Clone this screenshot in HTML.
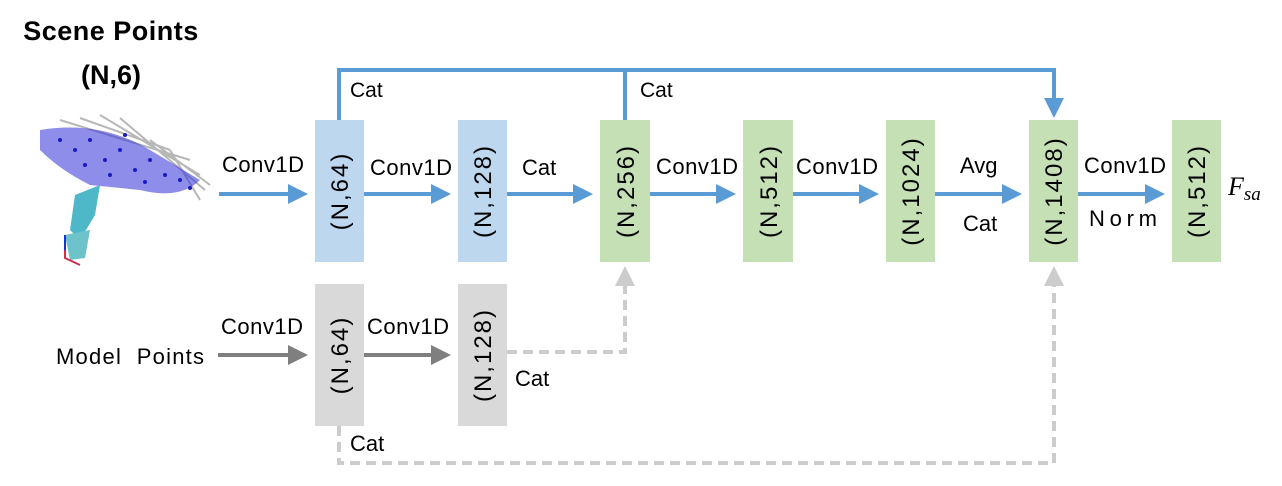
<!DOCTYPE html>
<html><head><meta charset="utf-8"><style>
body{margin:0;background:#fff;}
svg{display:block;font-family:"Liberation Sans",sans-serif;}
</style></head><body>
<svg width="1282" height="486" viewBox="0 0 1282 486" xmlns="http://www.w3.org/2000/svg">
<defs>
<marker id="ab" markerWidth="5" markerHeight="5" refX="4" refY="2.5" orient="auto" markerUnits="strokeWidth"><path d="M0,0 L5,2.5 L0,5z" fill="#5b9bd5"/></marker>
<marker id="ag" markerWidth="5" markerHeight="5" refX="4" refY="2.5" orient="auto" markerUnits="strokeWidth"><path d="M0,0 L5,2.5 L0,5z" fill="#7f7f7f"/></marker>
<marker id="ad" markerWidth="5" markerHeight="5" refX="4" refY="2.5" orient="auto" markerUnits="strokeWidth"><path d="M0,0 L5,2.5 L0,5z" fill="#cccccc"/></marker>
</defs>
<text x="111" y="40" font-size="27" font-weight="bold" text-anchor="middle" letter-spacing="0.5">Scene Points</text>
<text x="111" y="84" font-size="27" font-weight="bold" text-anchor="middle">(N,6)</text>
<!-- point cloud approximation -->
<g>
<path d="M60,120 L190,160 M80,118 L170,150 M100,115 L200,175 M120,118 L205,190 M150,140 L210,185 M170,150 L200,200" stroke="#999" stroke-width="2" opacity="0.7"/>
<path d="M40,130 Q100,120 150,150 L200,180 Q180,200 140,190 L90,185 Q60,170 40,150z" fill="#3232d8" opacity="0.55"/>
<g fill="#1a1ac0">
<circle cx="60" cy="140" r="2"/><circle cx="75" cy="150" r="2"/><circle cx="90" cy="140" r="2"/><circle cx="105" cy="160" r="2"/><circle cx="120" cy="150" r="2"/><circle cx="135" cy="170" r="2"/><circle cx="150" cy="160" r="2"/><circle cx="165" cy="175" r="2"/><circle cx="180" cy="180" r="2"/><circle cx="190" cy="188" r="2"/><circle cx="110" cy="175" r="2"/><circle cx="145" cy="182" r="2"/><circle cx="85" cy="165" r="2"/><circle cx="125" cy="135" r="2"/>
</g>
<path d="M75,195 L100,185 L95,215 L80,240 L70,230z" fill="#4fb8c8"/>
<path d="M65,235 L90,230 L85,258 L70,260z" fill="#6cc3c9"/>
<path d="M65,235 L65,258 L80,265" stroke="#d03050" stroke-width="2" fill="none"/>
<path d="M65,235 L65,250" stroke="#2030d0" stroke-width="2"/>
</g>
<!-- top skip line -->
<path d="M339,120 V70 H1054 V114" stroke="#5b9bd5" stroke-width="4" fill="none" marker-end="url(#ab)"/>
<path d="M625,70 V120" stroke="#5b9bd5" stroke-width="4" fill="none"/>
<text x="350" y="97" font-size="21">Cat</text>
<text x="640" y="97" font-size="21">Cat</text>
<!-- dashed lines -->
<path d="M507,352 H625 V270" stroke="#cccccc" stroke-width="4" stroke-dasharray="10,6" fill="none" marker-end="url(#ad)"/>
<path d="M339,426 V463 H1054 V270" stroke="#cccccc" stroke-width="4" stroke-dasharray="10,6" fill="none" marker-end="url(#ad)"/>
<!-- boxes -->
<rect x="315" y="120" width="49" height="142" fill="#bdd7ee"/>
<rect x="458" y="120" width="49" height="142" fill="#bdd7ee"/>
<rect x="600" y="120" width="50" height="142" fill="#c5e0b4"/>
<rect x="743" y="120" width="50" height="142" fill="#c5e0b4"/>
<rect x="886" y="120" width="49" height="142" fill="#c5e0b4"/>
<rect x="1029" y="120" width="49" height="142" fill="#c5e0b4"/>
<rect x="1172" y="120" width="49" height="142" fill="#c5e0b4"/>
<rect x="315" y="284" width="49" height="142" fill="#d9d9d9"/>
<rect x="458" y="284" width="49" height="142" fill="#d9d9d9"/>
<g font-size="24" text-anchor="middle" letter-spacing="2">
<text transform="translate(348,191) rotate(-90)">(N,64)</text>
<text transform="translate(491,191) rotate(-90)">(N,128)</text>
<text transform="translate(634,191) rotate(-90)">(N,256)</text>
<text transform="translate(777,191) rotate(-90)">(N,512)</text>
<text transform="translate(919,191) rotate(-90)">(N,1024)</text>
<text transform="translate(1062,191) rotate(-90)">(N,1408)</text>
<text transform="translate(1205,191) rotate(-90)">(N,512)</text>
<text transform="translate(348,355) rotate(-90)">(N,64)</text>
<text transform="translate(491,355) rotate(-90)">(N,128)</text>
</g>
<!-- main arrows -->
<g stroke="#5b9bd5" stroke-width="4" fill="none" marker-end="url(#ab)">
<path d="M219,194 H304"/>
<path d="M364,194 H447"/>
<path d="M507,194 H589"/>
<path d="M650,194 H732"/>
<path d="M793,194 H875"/>
<path d="M935,194 H1018"/>
<path d="M1078,194 H1161"/>
</g>
<g stroke="#7f7f7f" stroke-width="4" fill="none" marker-end="url(#ag)">
<path d="M218,355 H304"/>
<path d="M364,355 H447"/>
</g>
<g font-size="22">
<text x="222" y="172" textLength="82">Conv1D</text>
<text x="370" y="175" textLength="82">Conv1D</text>
<text x="522" y="175">Cat</text>
<text x="656" y="174" textLength="82">Conv1D</text>
<text x="796" y="174" textLength="82">Conv1D</text>
<text x="960" y="173">Avg</text>
<text x="963" y="231">Cat</text>
<text x="1084" y="173" textLength="82">Conv1D</text>
<text x="1089" y="226" textLength="68">Norm</text>
<text x="221" y="334" textLength="82">Conv1D</text>
<text x="367" y="334" textLength="82">Conv1D</text>
<text x="56" y="364" textLength="148">Model&#160; Points</text>
<text x="515" y="386">Cat</text>
<text x="350" y="451">Cat</text>
</g>
<text x="1228" y="195" font-size="26" font-style="italic" font-family="Liberation Serif,serif">F<tspan font-size="19" dy="5">sa</tspan></text>
</svg>
</body></html>
